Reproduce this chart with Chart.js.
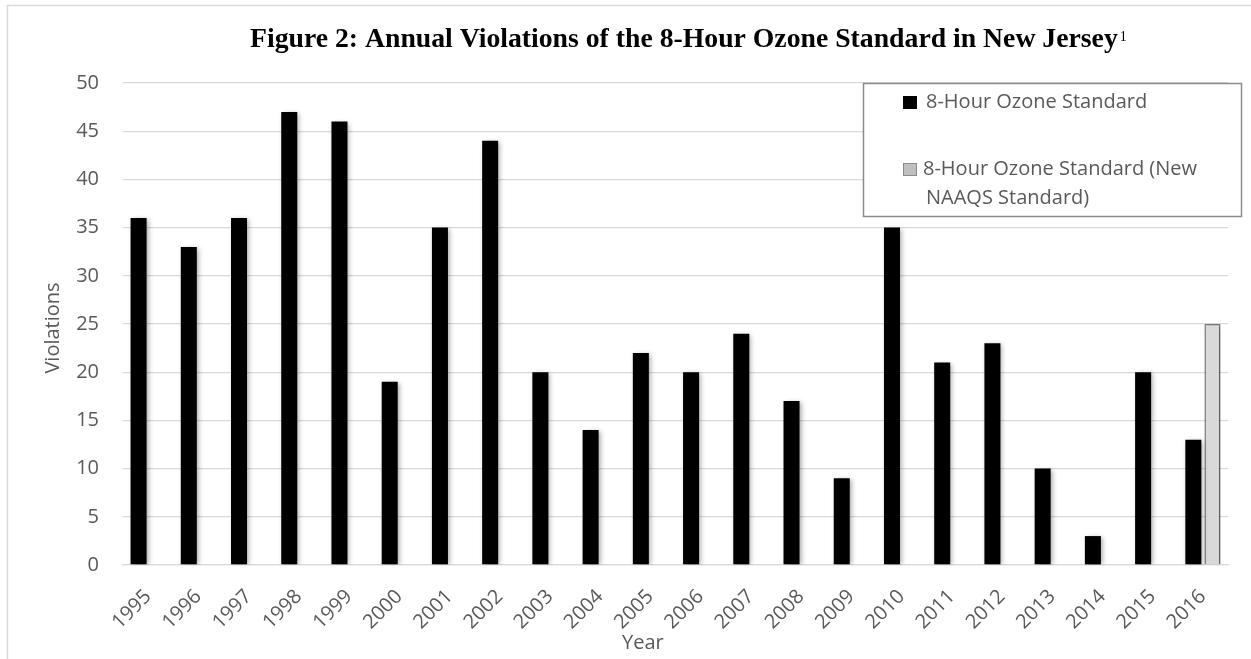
<!DOCTYPE html>
<html><head><meta charset="utf-8">
<script src="https://cdn.jsdelivr.net/npm/chart.js@4/dist/chart.umd.min.js"></script>
<style>html,body{margin:0;padding:0;background:#fff;} canvas{display:block;}</style>
</head><body>
<canvas id="c" width="1251" height="659"></canvas>
<script>
// ---- data ----
const years = ["1995","1996","1997","1998","1999","2000","2001","2002","2003","2004","2005","2006","2007","2008","2009","2010","2011","2012","2013","2014","2015","2016"];
const violations = [36,33,36,47,46,19,35,44,20,14,22,20,24,17,9,35,21,23,10,3,20,13];
const violationsNewNaaqs = [null,null,null,null,null,null,null,null,null,null,null,null,null,null,null,null,null,null,null,null,null,25];
const seriesNames = ["8-Hour Ozone Standard", "8-Hour Ozone Standard (New NAAQS Standard)"];
const chartTitle = "Figure 2: Annual Violations of the 8-Hour Ozone Standard in New Jersey";
const titleNote = "1";
const xAxisTitle = "Year";
const yAxisTitle = "Violations";
const yMin = 0, yMax = 50, yStep = 5;

const TXT = "#595959";
const FONT = "'Open Sans', 'DejaVu Sans', sans-serif";

const shadowPlugin = {
  id: 'barShadow',
  beforeDatasetDraw(chart) {
    const ctx = chart.ctx;
    ctx.save();
    ctx.shadowColor = 'rgba(0,0,0,0.35)';
    ctx.shadowBlur = 5;
    ctx.shadowOffsetX = 2;
    ctx.shadowOffsetY = 1;
  },
  afterDatasetDraw(chart) { chart.ctx.restore(); }
};

const decorPlugin = {
  id: 'decor',
  afterDraw(chart) {
    const ctx = chart.ctx;
    const ca = chart.chartArea;
    ctx.save();
    // outer frame (left and top edges visible)
    ctx.strokeStyle = '#d9d9d9';
    ctx.lineWidth = 1.5;
    ctx.beginPath();
    ctx.moveTo(7.5, chart.height);
    ctx.lineTo(7.5, 5.5);
    ctx.lineTo(chart.width, 5.5);
    ctx.stroke();

    // title
    ctx.fillStyle = '#000';
    ctx.textBaseline = 'alphabetic';
    ctx.textAlign = 'left';
    ctx.font = "bold 100px 'Liberation Serif', 'Times New Roman', serif";
    const w100 = ctx.measureText(chartTitle).width;
    const fs = 100 * 868 / w100;
    ctx.font = "bold " + fs.toFixed(2) + "px 'Liberation Serif', 'Times New Roman', serif";
    const tx = 250, ty = 47;
    ctx.fillText(chartTitle, tx, ty);
    const tw = ctx.measureText(chartTitle).width;
    ctx.font = "14px 'Liberation Serif', 'Times New Roman', serif";
    ctx.fillText(titleNote, tx + tw + 2, ty - 6);

    // axis titles
    ctx.fillStyle = TXT;
    ctx.font = "20px " + FONT;
    ctx.save();
    ctx.translate(53, 328);
    ctx.rotate(-Math.PI / 2);
    ctx.textAlign = 'center';
    ctx.textBaseline = 'middle';
    ctx.fillText(yAxisTitle, 0, 0);
    ctx.restore();
    ctx.textAlign = 'left';
    ctx.textBaseline = 'middle';
    ctx.fillText(xAxisTitle, 622, 643);

    // legend
    const lx = 863, ly = ca.top, lw = 378, lh = 133;
    ctx.fillStyle = '#fff';
    ctx.fillRect(lx, ly, lw, lh);
    ctx.strokeStyle = '#8c8c8c';
    ctx.lineWidth = 1.5;
    ctx.strokeRect(lx + 0.5, ly + 0.5, lw, lh);
    ctx.font = "20px " + FONT;
    const wrap = (text, maxW) => {
      const words = text.split(' ');
      const lines = []; let cur = '';
      for (const wd of words) {
        const t = cur ? cur + ' ' + wd : wd;
        if (ctx.measureText(t).width > maxW && cur) { lines.push(cur); cur = wd; } else cur = t;
      }
      if (cur) lines.push(cur);
      return lines;
    };
    const entryTops = [96, 163];
    const swatchFill = ['#000000', '#bfbfbf'];
    const swatchStroke = ['#000000', '#8c8c8c'];
    seriesNames.forEach((name, i) => {
      const sy = entryTops[i];
      ctx.fillStyle = swatchFill[i];
      ctx.fillRect(903, sy, 14, 13);
      ctx.strokeStyle = swatchStroke[i];
      ctx.lineWidth = 1;
      ctx.strokeRect(903.5, sy + 0.5, 13, 12);
      ctx.fillStyle = TXT;
      ctx.textAlign = 'left';
      ctx.textBaseline = 'middle';
      const lines = wrap(name, 300);
      lines.forEach((ln, j) => {
        ctx.fillText(ln, (i === 1 && j === 0) ? 923 : 926, sy + 6.5 + j * 29);
      });
    });
    ctx.restore();
  }
};

new Chart(document.getElementById('c'), {
  type: 'bar',
  data: {
    labels: years,
    datasets: [
      { label: seriesNames[0], data: violations, backgroundColor: '#000000', borderWidth: 0,
        categoryPercentage: 0.76, barPercentage: 0.84 },
      { label: seriesNames[1], data: violationsNewNaaqs, backgroundColor: '#d9d9d9', borderColor: '#7f7f7f', borderWidth: 1.5,
        categoryPercentage: 0.76, barPercentage: 0.84 }
    ]
  },
  options: {
    responsive: false,
    devicePixelRatio: 1,
    animation: false,
    layout: { padding: { top: 83, right: 23, left: 0, bottom: 0 } },
    plugins: { legend: { display: false }, title: { display: false }, tooltip: { enabled: false } },
    scales: {
      x: {
        grid: { display: false, drawTicks: false },
        border: { display: true, color: '#d9d9d9', width: 1.3 },
        ticks: { color: TXT, font: { family: FONT, size: 20 }, minRotation: 45, maxRotation: 45, autoSkip: false, padding: 20 },
        afterFit(scale) { scale.height = 94; }
      },
      y: {
        min: yMin, max: yMax,
        grid: { color: '#d9d9d9', lineWidth: 1.3, drawTicks: false },
        border: { display: false },
        ticks: { stepSize: yStep, color: TXT, font: { family: FONT, size: 20 }, padding: 24 },
        afterFit(scale) { scale.width = 123; }
      }
    }
  },
  plugins: [shadowPlugin, decorPlugin]
});
</script>
</body></html>
